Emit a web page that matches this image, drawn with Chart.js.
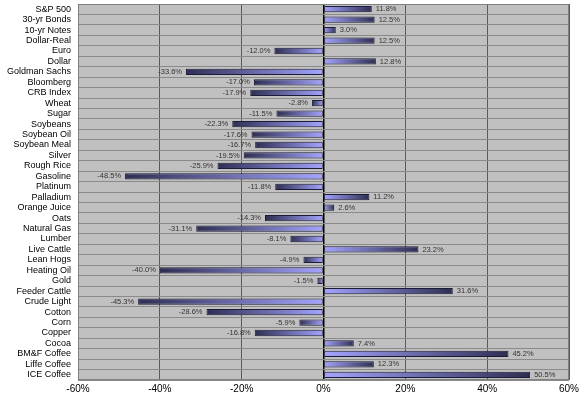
<!DOCTYPE html>
<html><head><meta charset="utf-8">
<script src="https://cdn.jsdelivr.net/npm/chart.js@4"></script>
<style>html,body{margin:0;padding:0;background:#fff}#wrap{width:587px;height:395px}</style>
</head><body><div id="wrap"><canvas id="c" width="587" height="395"></canvas></div>
<script>
const categories = ["S&P 500","30-yr Bonds","10-yr Notes","Dollar-Real","Euro","Dollar","Goldman Sachs","Bloomberg","CRB Index","Wheat","Sugar","Soybeans","Soybean Oil","Soybean Meal","Silver","Rough Rice","Gasoline","Platinum","Palladium","Orange Juice","Oats","Natural Gas","Lumber","Live Cattle","Lean Hogs","Heating Oil","Gold","Feeder Cattle","Crude Light","Cotton","Corn","Copper","Cocoa","BM&F Coffee","Liffe Coffee","ICE Coffee"];
const changes = [11.8,12.5,3.0,12.5,-12.0,12.8,-33.6,-17.0,-17.9,-2.8,-11.5,-22.3,-17.6,-16.7,-19.5,-25.9,-48.5,-11.8,11.2,2.6,-14.3,-31.1,-8.1,23.2,-4.9,-40.0,-1.5,31.6,-45.3,-28.6,-5.9,-16.8,7.4,45.2,12.3,50.5];
const xTicks = [-60,-40,-20,0,20,40,60];

const FONT = "'Liberation Sans', Arial, sans-serif";

function barGradient(ctx){
  const chart = ctx.chart;
  if (!chart.chartArea || ctx.dataIndex === undefined) return '#8888dd';
  const xs = chart.scales.x;
  const v = ctx.raw;
  const x0 = xs.getPixelForValue(0);
  const x1 = xs.getPixelForValue(v);
  if (Math.abs(x1 - x0) < 1) return '#9999ff';
  const g = chart.ctx.createLinearGradient(x0, 0, x1, 0);
  g.addColorStop(0, '#a4a4ff');
  g.addColorStop(1, '#2e2e52');
  return g;
}

const valueLabels = {
  id: 'valueLabels',
  afterDatasetsDraw(chart){
    const c = chart.ctx;
    const meta = chart.getDatasetMeta(0);
    c.save();
    c.font = "7.5px " + FONT;
    c.fillStyle = '#333333';
    c.textBaseline = 'middle';
    meta.data.forEach((el, i) => {
      const v = changes[i];
      const t = v.toFixed(1) + '%';
      if (v >= 0) { c.textAlign = 'left'; c.fillText(t, el.x + 4, el.y); }
      else { c.textAlign = 'right'; c.fillText(t, el.x - 4, el.y); }
    });
    c.restore();
  }
};

const plotBg = {
  id: 'plotBg',
  beforeDraw(chart){
    const a = chart.chartArea, c = chart.ctx;
    c.save(); c.fillStyle = '#c0c0c0';
    c.fillRect(a.left, a.top, a.right - a.left, a.bottom - a.top);
    c.restore();
  },
  afterDraw(chart){
    const a = chart.chartArea, c = chart.ctx;
    c.save(); c.strokeStyle = '#808080'; c.lineWidth = 1;
    c.strokeRect(a.left + 0.5, a.top + 0.5, a.right - a.left - 1, a.bottom - a.top - 1);
    c.restore();
  }
};

new Chart(document.getElementById('c'), {
  type: 'bar',
  data: {
    labels: categories,
    datasets: [{
      data: changes,
      backgroundColor: barGradient,
      borderColor: '#1c1c38',
      borderWidth: 1,
      borderSkipped: false,
      categoryPercentage: 1.0,
      barPercentage: 0.6
    }]
  },
  options: {
    indexAxis: 'y',
    responsive: false,
    animation: false,
    devicePixelRatio: 1,
    layout: { padding: { left: 0, right: 18, top: 4, bottom: 0 } },
    plugins: { legend: { display: false }, tooltip: { enabled: false } },
    scales: {
      x: {
        min: -60, max: 60,
        afterBuildTicks(s){ s.ticks = xTicks.map(v => ({ value: v })); },
        afterFit(s){ s.height = 15; s.paddingLeft = 0; s.paddingRight = 0; },
        ticks: { callback: v => v + '%', font: { family: FONT, size: 10 }, color: '#000', padding: 3, maxRotation: 0 },
        grid: {
          color: c => c.tick && c.tick.value === 0 ? '#000000' : '#5a5a5a',
          lineWidth: c => c.tick && c.tick.value === 0 ? 1.5 : 1,
          drawTicks: false
        },
        border: { display: false }
      },
      y: {
        afterFit(s){ s.width = 78; s.paddingTop = 0; s.paddingBottom = 0; },
        ticks: { font: { family: FONT, size: 9 }, color: '#000', padding: 7, autoSkip: false },
        grid: { color: '#8a8a8a', lineWidth: 1, drawTicks: false, offset: true },
        border: { display: false }
      }
    }
  },
  plugins: [plotBg, valueLabels]
});
</script>
</body></html>
